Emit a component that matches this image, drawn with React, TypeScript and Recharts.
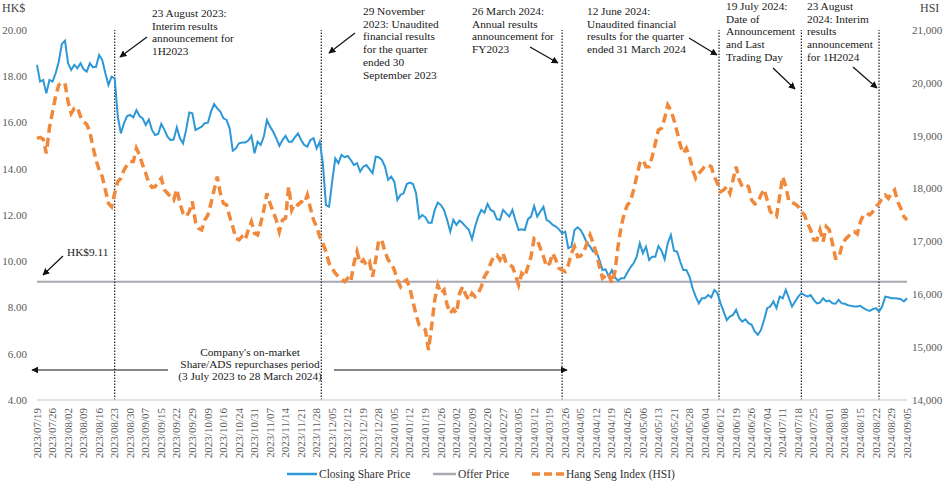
import { LineChart, Line, XAxis, YAxis, ReferenceLine, Legend } from "recharts";

const FONT = '"Liberation Serif", "Times New Roman", serif';
const BLUE = "#2E98D6";
const ORANGE = "#F0893B";
const GREY = "#A7A9B0";
const AXIS_TEXT = "#595959";

// weekly tick labels, one every 5 trading days
const TICK_LABELS = [
  "2023/07/19", "2023/07/26", "2023/08/02", "2023/08/09", "2023/08/16", "2023/08/23", "2023/08/30",
  "2023/09/07", "2023/09/15", "2023/09/22", "2023/09/29", "2023/10/09", "2023/10/16", "2023/10/24",
  "2023/10/31", "2023/11/07", "2023/11/14", "2023/11/21", "2023/11/28", "2023/12/05", "2023/12/12",
  "2023/12/19", "2023/12/28", "2024/01/05", "2024/01/12", "2024/01/19", "2024/01/26", "2024/02/02",
  "2024/02/09", "2024/02/20", "2024/02/27", "2024/03/05", "2024/03/12", "2024/03/19", "2024/03/26",
  "2024/04/05", "2024/04/12", "2024/04/19", "2024/04/26", "2024/05/06", "2024/05/13", "2024/05/21",
  "2024/05/28", "2024/06/04", "2024/06/12", "2024/06/19", "2024/06/26", "2024/07/04", "2024/07/11",
  "2024/07/18", "2024/07/25", "2024/08/01", "2024/08/08", "2024/08/15", "2024/08/22", "2024/08/29",
  "2024/09/05",
];

// closing share price (HK$), one per trading day
const PRICE = [
  18.49, 17.77, 17.84, 17.26, 17.84, 17.77, 18.13, 18.63, 19.40, 19.54,
  18.56, 18.27, 18.49, 18.34, 18.56, 18.30, 18.20, 18.56, 18.39, 18.41,
  18.92, 18.70, 18.13, 17.62, 17.98, 17.91, 16.25, 15.53, 15.97, 16.28,
  16.33, 16.22, 16.54, 16.28, 16.18, 15.89, 16.13, 15.68, 15.46, 15.50,
  15.94, 15.68, 15.39, 15.24, 15.27, 15.79, 15.32, 15.10, 15.68, 16.43,
  16.40, 15.68, 15.75, 15.82, 15.97, 15.99, 16.47, 16.80, 16.61, 16.47,
  16.18, 16.11, 15.75, 14.78, 14.88, 15.10, 15.13, 15.13, 15.22, 15.42,
  14.67, 15.17, 15.03, 15.39, 16.11, 15.82, 15.61, 15.32, 14.99, 15.24,
  15.42, 15.17, 15.17, 15.36, 15.53, 15.24, 15.03, 14.96, 15.24, 15.32,
  14.88, 15.17, 14.24, 12.43, 12.36, 13.44, 14.45, 14.24, 14.60, 14.50,
  14.55, 14.38, 14.16, 14.24, 13.88, 14.09, 14.16, 13.98, 13.80, 14.52,
  14.50, 14.38, 14.09, 13.52, 13.66, 13.44, 12.65, 12.87, 12.94, 13.34,
  13.40, 13.34, 12.94, 11.86, 12.00, 11.90, 11.67, 11.67, 12.22, 12.54,
  12.43, 12.22, 11.79, 11.28, 11.79, 11.57, 11.76, 11.64, 11.50, 11.35,
  10.95, 11.50, 11.93, 12.22, 12.10, 12.48, 12.22, 12.15, 11.82, 11.79,
  12.22, 12.07, 11.93, 12.22, 11.76, 11.35, 11.38, 11.35, 11.82, 11.93,
  12.39, 11.93, 12.15, 12.36, 11.79, 11.71, 11.57, 11.50, 11.38, 11.21,
  11.28, 10.56, 10.63, 11.35, 11.47, 11.35, 11.09, 10.78, 10.63, 10.42,
  10.42, 10.06, 9.62, 9.65, 9.34, 9.62, 9.31, 9.16, 9.27, 9.27,
  9.51, 9.74, 9.91, 10.20, 10.78, 10.35, 10.63, 10.06, 10.20, 10.20,
  10.66, 10.46, 10.09, 10.78, 11.14, 10.46, 10.42, 9.99, 9.62, 9.62,
  9.34, 8.83, 8.47, 8.18, 8.40, 8.40, 8.54, 8.44, 8.76, 8.62,
  8.18, 7.82, 7.46, 7.61, 7.68, 7.90, 7.54, 7.39, 7.49, 7.32,
  7.25, 6.96, 6.82, 7.03, 7.46, 7.97, 8.04, 8.26, 7.97, 8.47,
  8.40, 8.76, 8.40, 8.04, 8.26, 8.47, 8.62, 8.54, 8.47, 8.54,
  8.33, 8.18, 8.21, 8.40, 8.26, 8.30, 8.18, 8.16, 8.33, 8.18,
  8.16, 8.10, 8.07, 8.04, 8.04, 8.07, 7.97, 7.90, 7.85, 7.93,
  7.97, 7.82, 8.04, 8.47, 8.44, 8.40, 8.40, 8.39, 8.36, 8.26,
  8.40,
];

// Hang Seng Index close
const HSI = [
  18951, 18970, 18932, 18667, 19150, 19450, 19750, 19960, 20004, 19991,
  19644, 19424, 19518, 19537, 19361, 19266, 19216, 19077, 18793, 18541,
  18352, 18226, 17974, 17721, 17658, 17911, 18131, 18194, 18352, 18447,
  18510, 18510, 18762, 18636, 18447, 18289, 18100, 18024, 18037, 18131,
  18194, 17974, 17911, 17848, 17785, 17986, 17721, 17532, 17469, 17564,
  17753, 17374, 17249, 17217, 17406, 17501, 17721, 17974, 18226, 17911,
  17721, 17690, 17469, 17280, 17059, 17028, 17091, 17028, 17217, 17374,
  17154, 17122, 17343, 17595, 17911, 17721, 17564, 17406, 17185, 17406,
  17438, 18037, 17595, 17721, 17690, 17753, 17721, 17879, 17627, 17406,
  17280, 17091, 16965, 16807, 16587, 16492, 16397, 16334, 16284, 16240,
  16303, 16240, 16587, 16807, 16587, 16650, 16555, 16618, 16334, 16650,
  17028, 17015, 16807, 16650, 16587, 16461, 16271, 16145, 16240, 16271,
  16114, 15861, 15609, 15420, 15376, 15326, 14947, 15389, 15893, 16177,
  16019, 16082, 15798, 15641, 15716, 15641, 16019, 16145, 15988, 15893,
  16019, 15956, 16019, 16145, 16334, 16429, 16587, 16713, 16744, 16650,
  16776, 16587, 16555, 16524, 16366, 16177, 16397, 16334, 16524, 16713,
  17059, 17028, 16870, 16713, 16524, 16587, 16776, 16650, 16492, 16461,
  16429, 16555, 16776, 16902, 16713, 16725, 16807, 16965, 17122, 16965,
  16776, 16524, 16303, 16347, 16397, 16208, 16429, 16902, 17280, 17532,
  17690, 17753, 17974, 18226, 18478, 18541, 18415, 18415, 18604, 18856,
  19109, 19140, 19329, 19581, 19487, 19298, 19077, 18825, 18667, 18762,
  18604, 18352, 18194, 18289, 18352, 18428, 18447, 18415, 18226, 18100,
  17942, 17974, 18037, 17911, 18163, 18415, 18163, 18037, 18068, 18037,
  17785, 17709, 17734, 17879, 17986, 17785, 17564, 17501, 17469, 17848,
  18226, 18037, 17753, 17734, 17709, 17658, 17564, 17501, 17343, 17217,
  17028, 17028, 17217, 16996, 17280, 17217, 16965, 16681, 16681, 16902,
  17028, 17091, 17141, 17185, 17141, 17374, 17501, 17532, 17501, 17564,
  17658, 17721, 17816, 17879, 17816, 17911, 17974, 17753, 17627, 17469,
  17406,
];

const OFFER_PRICE = 9.11;
// trading-day positions of the announcement dates
const EVENTS = [25, 91.5, 169, 219.5, 246, 271];

const PRICE_TICKS = [4, 6, 8, 10, 12, 14, 16, 18, 20];
const HSI_TICKS = [14000, 15000, 16000, 17000, 18000, 19000, 20000, 21000];

const data = PRICE.map((p, i) => ({ i, price: p, hsi: HSI[i] }));

const NOTES = [
  { x: 152, y: 17, lines: ["23 August 2023:", "Interim results", "announcement for", "1H2023"], arrow: [147, 37, 120, 57] },
  { x: 363, y: 15, lines: ["29 November", "2023: Unaudited", "financial results", "for the quarter", "ended 30", "September 2023"], arrow: [355, 33, 329, 53] },
  { x: 472, y: 15, lines: ["26 March 2024:", "Annual results", "announcement for", "FY2023"], arrow: [530, 47, 558, 63] },
  { x: 587, y: 15, lines: ["12 June 2024:", "Unaudited financial", "results for the quarter", "ended 31 March 2024"], arrow: [689, 38, 717, 55] },
  { x: 726, y: 10, lines: ["19 July 2024:", "Date of", "Announcement", "and Last", "Trading Day"], arrow: [773, 68, 795, 89] },
  { x: 807, y: 10, lines: ["23 August", "2024: Interim", "results", "announcement", "for 1H2024"], arrow: [853, 67, 877, 88] },
];

const DateTick = (props: any) => {
  const { x, y, payload } = props;
  const label = TICK_LABELS[Math.round(payload.value / 5)];
  return (
    <g transform={`translate(${x},${y})`}>
      <text transform="rotate(-90)" x={0} y={0} dy="0.33em" textAnchor="end" fontSize={11} fontFamily={FONT} fill={AXIS_TEXT}>
        {label}
      </text>
    </g>
  );
};

const renderLegend = () => (
  <svg width={950} height={22} style={{ display: "block" }}>
    <g fontFamily={FONT} fontSize={11.5} fill="#333">
      <line x1={287} x2={317} y1={14} y2={14} stroke={BLUE} strokeWidth={2.5} />
      <text x={319} y={18}>Closing Share Price</text>
      <line x1={433} x2={456} y1={14} y2={14} stroke={GREY} strokeWidth={2.5} />
      <text x={458} y={18}>Offer Price</text>
      <line x1={532} x2={564} y1={14} y2={14} stroke={ORANGE} strokeWidth={3.5} strokeDasharray="8 4" />
      <text x={566} y={18}>Hang Seng Index (HSI)</text>
    </g>
  </svg>
);

const Annotations = () => (
  <svg width={950} height={482} style={{ position: "absolute", left: 0, top: 0, pointerEvents: "none" }}>
    <defs>
      <marker id="head" viewBox="0 0 10 10" refX={9} refY={5} markerWidth={7} markerHeight={7} markerUnits="userSpaceOnUse" orient="auto">
        <path d="M0,0 L10,5 L0,10 z" fill="#111" />
      </marker>
    </defs>
    <g fontFamily={FONT} fill="#444" fontSize={12}>
      <text x={2} y={12}>HK$</text>
      <text x={920} y={12}>HSI</text>
    </g>
    <g fontFamily={FONT} fontSize={11.3} fill="#1a1a1a">
      {NOTES.map((n, k) => (
        <g key={k}>
          {n.lines.map((l, j) => (
            <text key={j} x={n.x} y={n.y + j * 12.7}>{l}</text>
          ))}
          <line x1={n.arrow[0]} y1={n.arrow[1]} x2={n.arrow[2]} y2={n.arrow[3]} stroke="#111" strokeWidth={1.2} markerEnd="url(#head)" />
        </g>
      ))}
      <text x={67} y={256}>HK$9.11</text>
      <line x1={63} y1={256} x2={43} y2={275} stroke="#111" strokeWidth={1.2} markerEnd="url(#head)" />
      <text x={250} y={356} textAnchor="middle">Company's on-market</text>
      <text x={250} y={368} textAnchor="middle">Share/ADS repurchases period</text>
      <text x={250} y={380} textAnchor="middle">(3 July 2023 to 28 March 2024)</text>
      <line x1={168} y1={370} x2={32} y2={370} stroke="#111" strokeWidth={1.2} markerEnd="url(#head)" />
      <line x1={334} y1={370} x2={567} y2={370} stroke="#111" strokeWidth={1.2} markerEnd="url(#head)" />
    </g>
  </svg>
);

export default function App() {
  return (
    <div style={{ position: "absolute", left: 0, top: 0, width: 950, height: 482, background: "#fff" }}>
      <LineChart width={950} height={482} data={data} margin={{ top: 30, right: 0, bottom: 0, left: 0 }}>
        <XAxis
          dataKey="i"
          type="number"
          domain={[0, PRICE.length - 1]}
          ticks={TICK_LABELS.map((_, k) => k * 5)}
          interval={0}
          height={60}
          tickLine={false}
          axisLine={{ stroke: "#D9D9D9", strokeWidth: 1.5 }}
          tick={<DateTick />}
        />
        <YAxis
          yAxisId="price"
          domain={[4, 20]}
          ticks={PRICE_TICKS}
          tickFormatter={(v: number) => v.toFixed(2)}
          width={37}
          tickLine={false}
          axisLine={false}
          tickSize={0}
          tickMargin={10}
          tick={{ fontSize: 11, fontFamily: FONT, fill: AXIS_TEXT }}
        />
        <YAxis
          yAxisId="hsi"
          orientation="right"
          domain={[14000, 21000]}
          ticks={HSI_TICKS}
          tickFormatter={(v: number) => v.toLocaleString("en-US")}
          width={43}
          tickLine={false}
          axisLine={false}
          tickSize={0}
          tickMargin={5}
          tick={{ fontSize: 11, fontFamily: FONT, fill: AXIS_TEXT, textAnchor: "start" }}
        />
        <ReferenceLine yAxisId="price" y={OFFER_PRICE} stroke={GREY} strokeWidth={2} />
        {EVENTS.map((e) => (
          <ReferenceLine key={e} yAxisId="price" x={e} stroke="#222" strokeWidth={1.2} strokeDasharray="1.5 1.5" />
        ))}
        <Line yAxisId="price" dataKey="price" name="Closing Share Price" stroke={BLUE} strokeWidth={2} dot={false} isAnimationActive={false} />
        <Line yAxisId="hsi" dataKey="hsi" name="Hang Seng Index (HSI)" stroke={ORANGE} strokeWidth={3.5} strokeDasharray="9 5" dot={false} isAnimationActive={false} />
        <Legend verticalAlign="bottom" height={22} content={renderLegend} wrapperStyle={{ left: 0, bottom: 0, width: 950 }} />
      </LineChart>
      <Annotations />
    </div>
  );
}
